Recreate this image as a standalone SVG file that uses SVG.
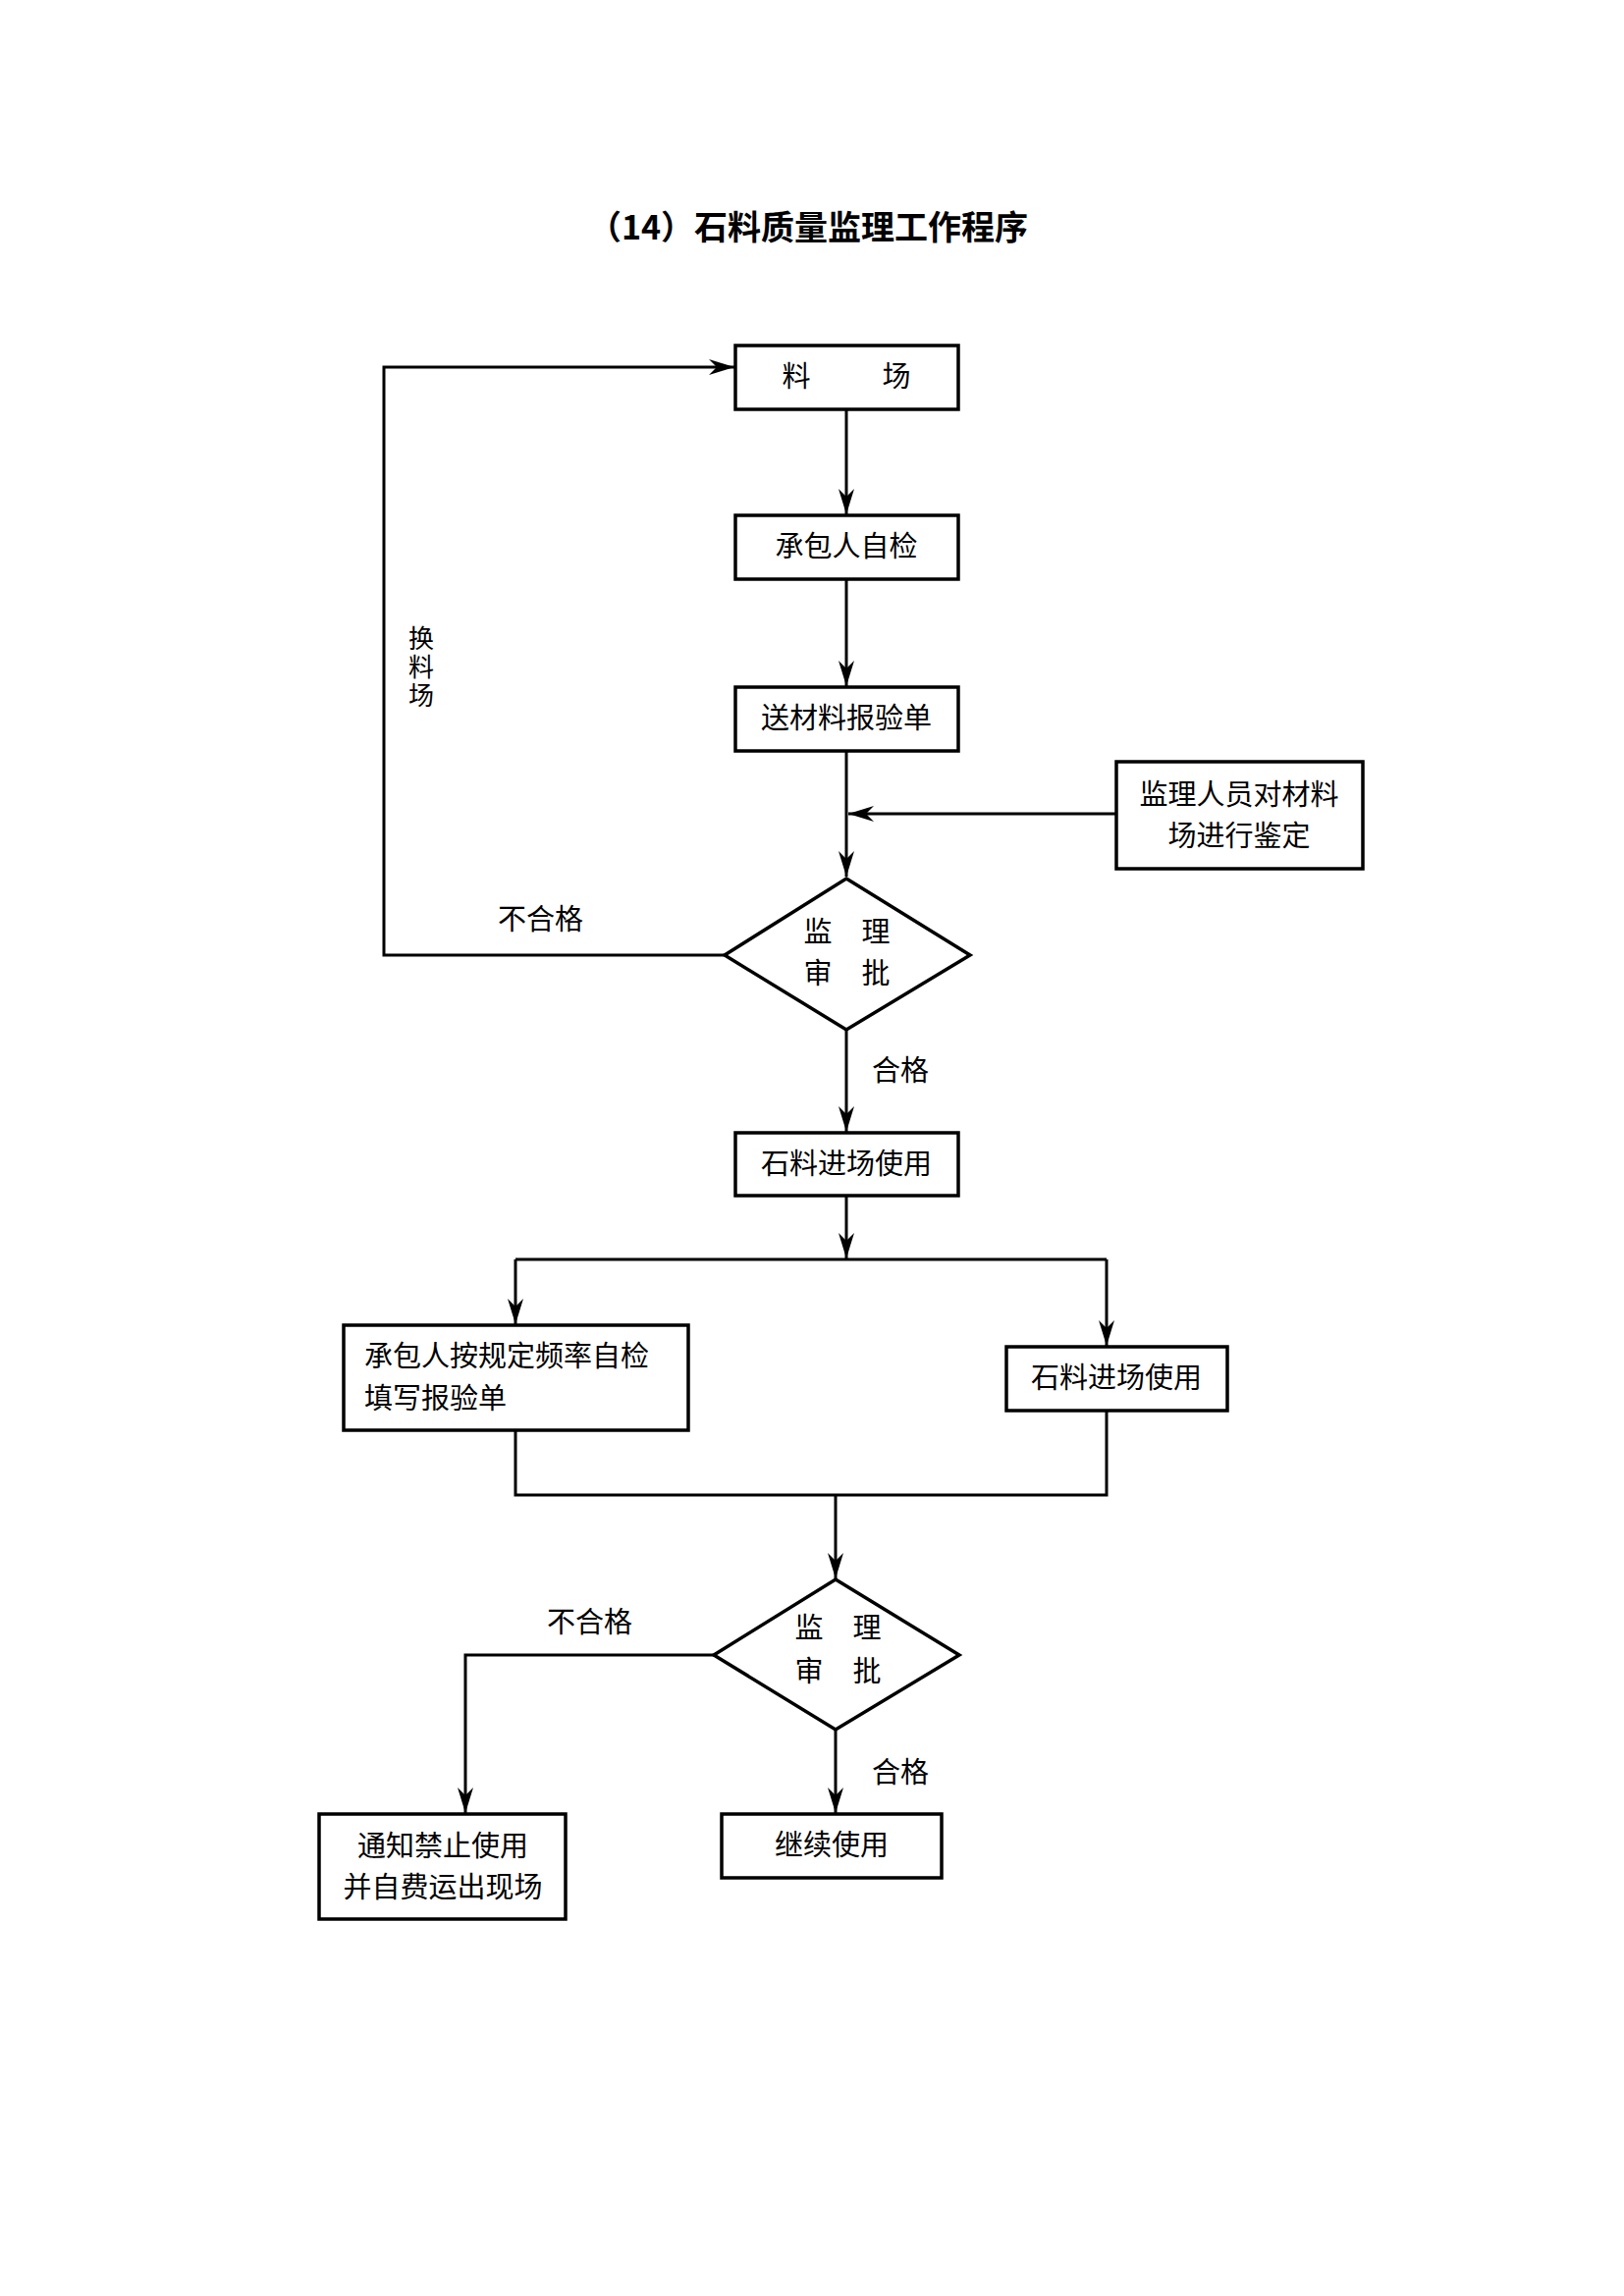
<svg xmlns="http://www.w3.org/2000/svg" width="1654" height="2339" viewBox="0 0 1654 2339">
<style>
.bx{fill:#fff;stroke:#000;stroke-width:3.5}
.ln{fill:none;stroke:#000;stroke-width:3}
.t{font-family:"Noto Sans CJK SC","Liberation Serif",sans-serif;font-size:29px;fill:#000}
.v{font-size:26px;writing-mode:vertical-rl;letter-spacing:3px}
.c{text-anchor:middle}
.title{font-family:"Noto Sans CJK SC",sans-serif;font-size:34px;font-weight:bold;text-anchor:middle}
</style>
<defs>
<marker id="ar" viewBox="0 0 26 16" refX="26" refY="8" markerWidth="26" markerHeight="16" markerUnits="userSpaceOnUse" orient="auto">
<path d="M0,0 L26,8 L0,16 L8,8 Z" fill="#000"/>
</marker>
</defs>
<rect width="1654" height="2339" fill="#fff"/>
<text class="title" x="823" y="244">（14）石料质量监理工作程序</text>

<g id="connectors">
<line class="ln" x1="862" y1="417" x2="862" y2="524" marker-end="url(#ar)"/>
<line class="ln" x1="862" y1="590" x2="862" y2="699" marker-end="url(#ar)"/>
<line class="ln" x1="862" y1="765" x2="862" y2="893" marker-end="url(#ar)"/>
<line class="ln" x1="1137" y1="829" x2="864" y2="829" marker-end="url(#ar)"/>
<polyline class="ln" points="738,973 391,973 391,374 748,374" marker-end="url(#ar)"/>
<line class="ln" x1="862" y1="1049" x2="862" y2="1153" marker-end="url(#ar)"/>
<line class="ln" x1="862" y1="1218" x2="862" y2="1282" marker-end="url(#ar)"/>
<line class="ln" x1="525" y1="1283" x2="1127" y2="1283"/>
<line class="ln" x1="525" y1="1283" x2="525" y2="1349" marker-end="url(#ar)"/>
<line class="ln" x1="1127" y1="1283" x2="1127" y2="1371" marker-end="url(#ar)"/>
<polyline class="ln" points="525,1457 525,1523 1127,1523 1127,1437"/>
<line class="ln" x1="851" y1="1523" x2="851" y2="1608" marker-end="url(#ar)"/>
<polyline class="ln" points="727,1686 474,1686 474,1847" marker-end="url(#ar)"/>
<line class="ln" x1="851" y1="1762" x2="851" y2="1847" marker-end="url(#ar)"/>
<text class="t" x="507" y="947">不合格</text>
<text class="t" x="888" y="1101">合格</text>
<text class="t" x="557" y="1663">不合格</text>
<text class="t" x="888" y="1816">合格</text>
<text class="t v" x="429" y="637">换料场</text>
</g>

<g id="n1"><rect class="bx" x="749" y="352" width="227" height="65"/>
<text class="t c" x="811" y="394">料</text><text class="t c" x="913" y="394">场</text></g>
<g id="n2"><rect class="bx" x="749" y="525" width="227" height="65"/>
<text class="t c" x="862" y="567">承包人自检</text></g>
<g id="n3"><rect class="bx" x="749" y="700" width="227" height="65"/>
<text class="t c" x="862" y="742">送材料报验单</text></g>
<g id="n4"><rect class="bx" x="1137" y="776" width="251" height="109"/>
<text class="t c" x="1262" y="820">监理人员对材料</text><text class="t c" x="1262" y="862">场进行鉴定</text></g>
<g id="d1"><polygon class="bx" points="862,895 988,973 862,1049 738,973"/>
<text class="t c" x="833" y="960">监</text><text class="t c" x="892" y="960">理</text>
<text class="t c" x="833" y="1002">审</text><text class="t c" x="892" y="1002">批</text></g>
<g id="n5"><rect class="bx" x="749" y="1154" width="227" height="64"/>
<text class="t c" x="862" y="1196">石料进场使用</text></g>
<g id="n6"><rect class="bx" x="350" y="1350" width="351" height="107"/>
<text class="t" x="371" y="1392">承包人按规定频率自检</text><text class="t" x="371" y="1435">填写报验单</text></g>
<g id="n7"><rect class="bx" x="1025" y="1372" width="225" height="65"/>
<text class="t c" x="1137" y="1414">石料进场使用</text></g>
<g id="d2"><polygon class="bx" points="851,1609 977,1686 851,1762 727,1686"/>
<text class="t c" x="824" y="1669">监</text><text class="t c" x="883" y="1669">理</text>
<text class="t c" x="824" y="1713">审</text><text class="t c" x="883" y="1713">批</text></g>
<g id="n8"><rect class="bx" x="325" y="1848" width="251" height="107"/>
<text class="t c" x="451" y="1891">通知禁止使用</text><text class="t c" x="451" y="1933">并自费运出现场</text></g>
<g id="n9"><rect class="bx" x="735" y="1848" width="224" height="65"/>
<text class="t c" x="847" y="1890">继续使用</text></g>
</svg>
